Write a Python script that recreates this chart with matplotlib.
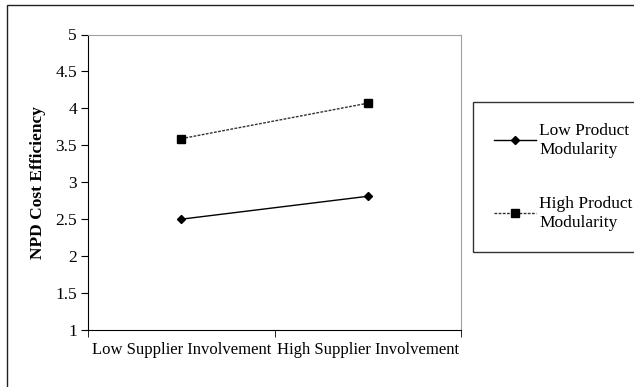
import matplotlib.pyplot as plt
from matplotlib.patches import Rectangle

# Data
categories = ['Low Supplier Involvement', 'High Supplier Involvement']
low_modularity = [2.50, 2.81]
high_modularity = [3.59, 4.07]
y_ticks = [1, 1.5, 2, 2.5, 3, 3.5, 4, 4.5, 5]
y_tick_labels = ['1', '1.5', '2', '2.5', '3', '3.5', '4', '4.5', '5']

plt.rcParams['font.family'] = ['Liberation Serif', 'DejaVu Serif']

fig = plt.figure(figsize=(6.34, 3.87), dpi=100)
ax = fig.add_axes([88 / 634, 57 / 387, 373 / 634, 295.5 / 387])

x = list(range(len(categories)))
ax.plot(x, low_modularity, color='black', linewidth=1.0, marker='D', markersize=4,
        label='Low Product\nModularity')
ax.plot(x, high_modularity, color='#333333', linewidth=1.0, linestyle=(0, (2, 1)),
        marker='s', markersize=6, markerfacecolor='black', markeredgecolor='black',
        label='High Product\nModularity')

ax.set_xlim(-0.5, 1.5)
ax.set_ylim(1, 5)
ax.set_xticks(x)
ax.set_xticklabels(categories, fontsize=12)
ax.set_xticks([-0.5, 0.5, 1.5], minor=True)
ax.tick_params(axis='x', which='major', length=0, pad=9)
ax.tick_params(axis='x', which='minor', length=5, direction='out')
ax.set_yticks(y_ticks)
ax.set_yticklabels(y_tick_labels, fontsize=12.5)
ax.tick_params(axis='y', length=5, direction='out', pad=3)
ax.set_ylabel('NPD Cost Efficiency', fontsize=12.5, fontweight='bold', labelpad=7)

for side in ['top', 'right']:
    ax.spines[side].set_color('#a0a0a0')
for side in ['left', 'bottom']:
    ax.spines[side].set_color('black')

leg = fig.legend(loc='upper left', bbox_to_anchor=(473 / 634, 1 - 102 / 387),
                 frameon=True, fancybox=False, edgecolor='black', fontsize=12.5,
                 handlelength=2.4, handletextpad=0.2, labelspacing=2.2,
                 borderpad=1.2, borderaxespad=0)
leg.get_frame().set_linewidth(1.0)
for t in leg.get_texts():
    t.set_linespacing(1.25)

# outer frame around the chart area
fig.patches.append(Rectangle((7 / 634, -0.1), 1.2, 1 - 5 / 387 + 0.1,
                             transform=fig.transFigure, fill=False,
                             edgecolor='#222222', linewidth=1.0))

fig.savefig('out.png', dpi=100)
